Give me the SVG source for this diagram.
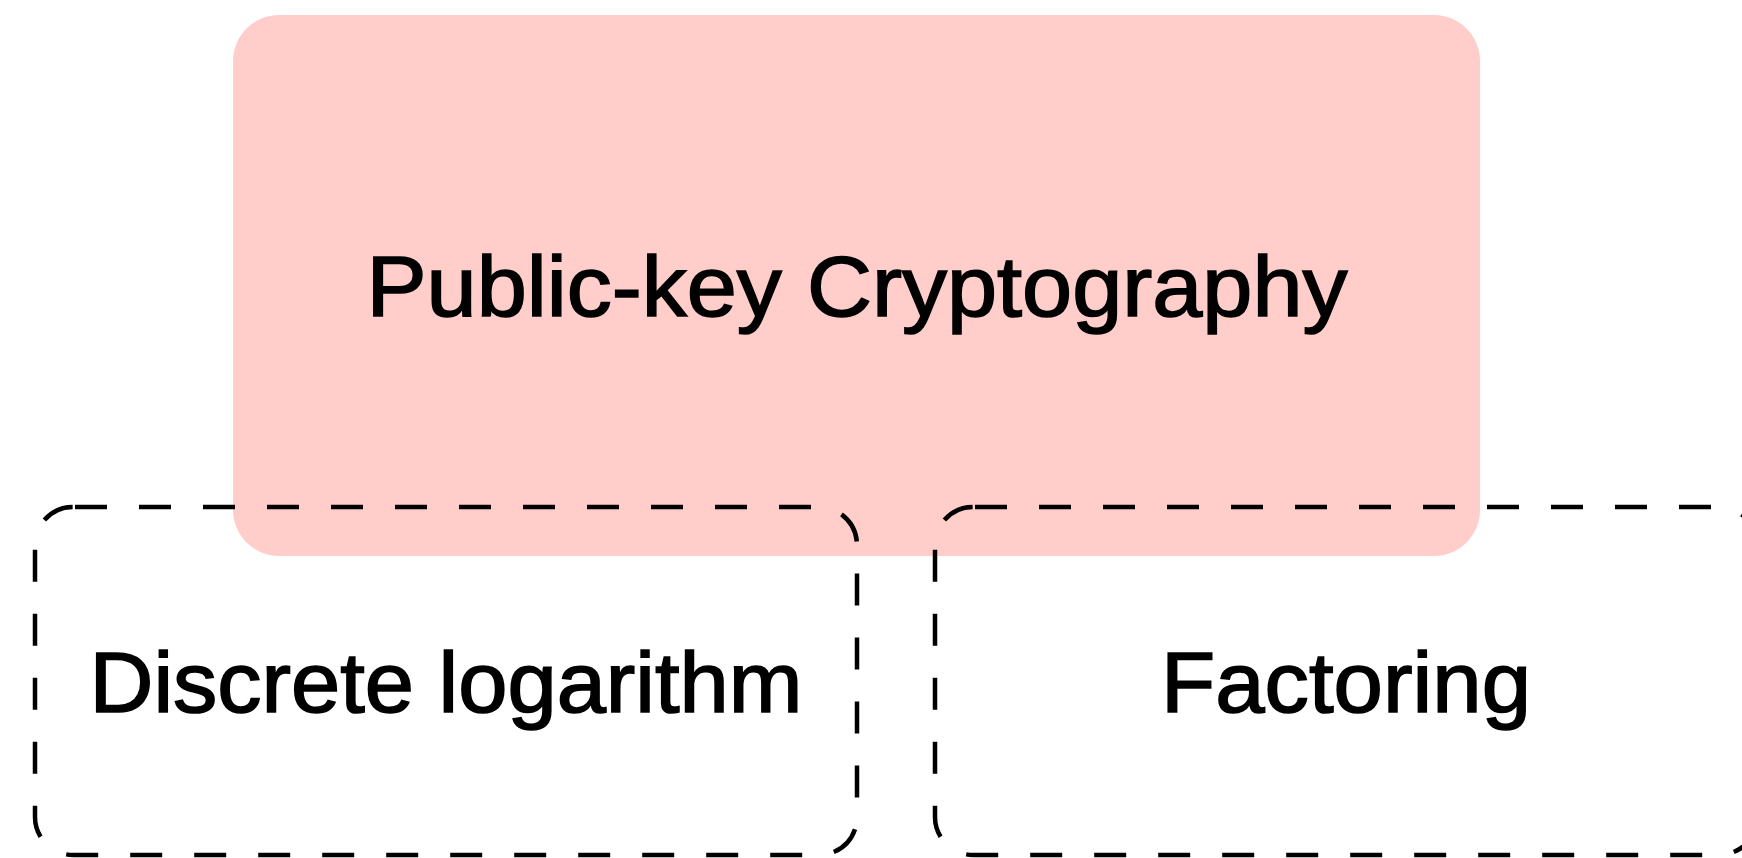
<svg xmlns="http://www.w3.org/2000/svg" width="1742" height="858" viewBox="0 0 1742 858">
  <style>
    .label { font-family: "Liberation Sans", Arial, Helvetica, sans-serif; font-size: 85px; fill: #000000; stroke: #000000; stroke-width: 1.6; text-anchor: middle; }
    .group-box { fill: none; stroke: #000000; stroke-width: 4.5; stroke-dasharray: 32 32; }
  </style>
  <rect width="1742" height="858" fill="#ffffff"/>

  <!-- Umbrella topic -->
  <g id="public-key">
    <rect x="233" y="15" width="1247" height="541" rx="46" ry="46" fill="#ffcecb"/>
    <text class="label" x="857" y="316" textLength="981" lengthAdjust="spacingAndGlyphs">Public-key Cryptography</text>
  </g>

  <!-- Underlying hardness assumptions -->
  <g id="discrete-log">
    <rect class="group-box" x="35" y="507" width="822" height="348" rx="38" ry="38" stroke-dashoffset="-2"/>
    <text class="label" x="446" y="712" textLength="713" lengthAdjust="spacingAndGlyphs">Discrete logarithm</text>
  </g>

  <g id="factoring">
    <rect class="group-box" x="935" y="507" width="822" height="348" rx="38" ry="38" stroke-dashoffset="-2"/>
    <text class="label" x="1346" y="712" textLength="370" lengthAdjust="spacingAndGlyphs">Factoring</text>
  </g>

  <g id="connectors"></g>
</svg>
